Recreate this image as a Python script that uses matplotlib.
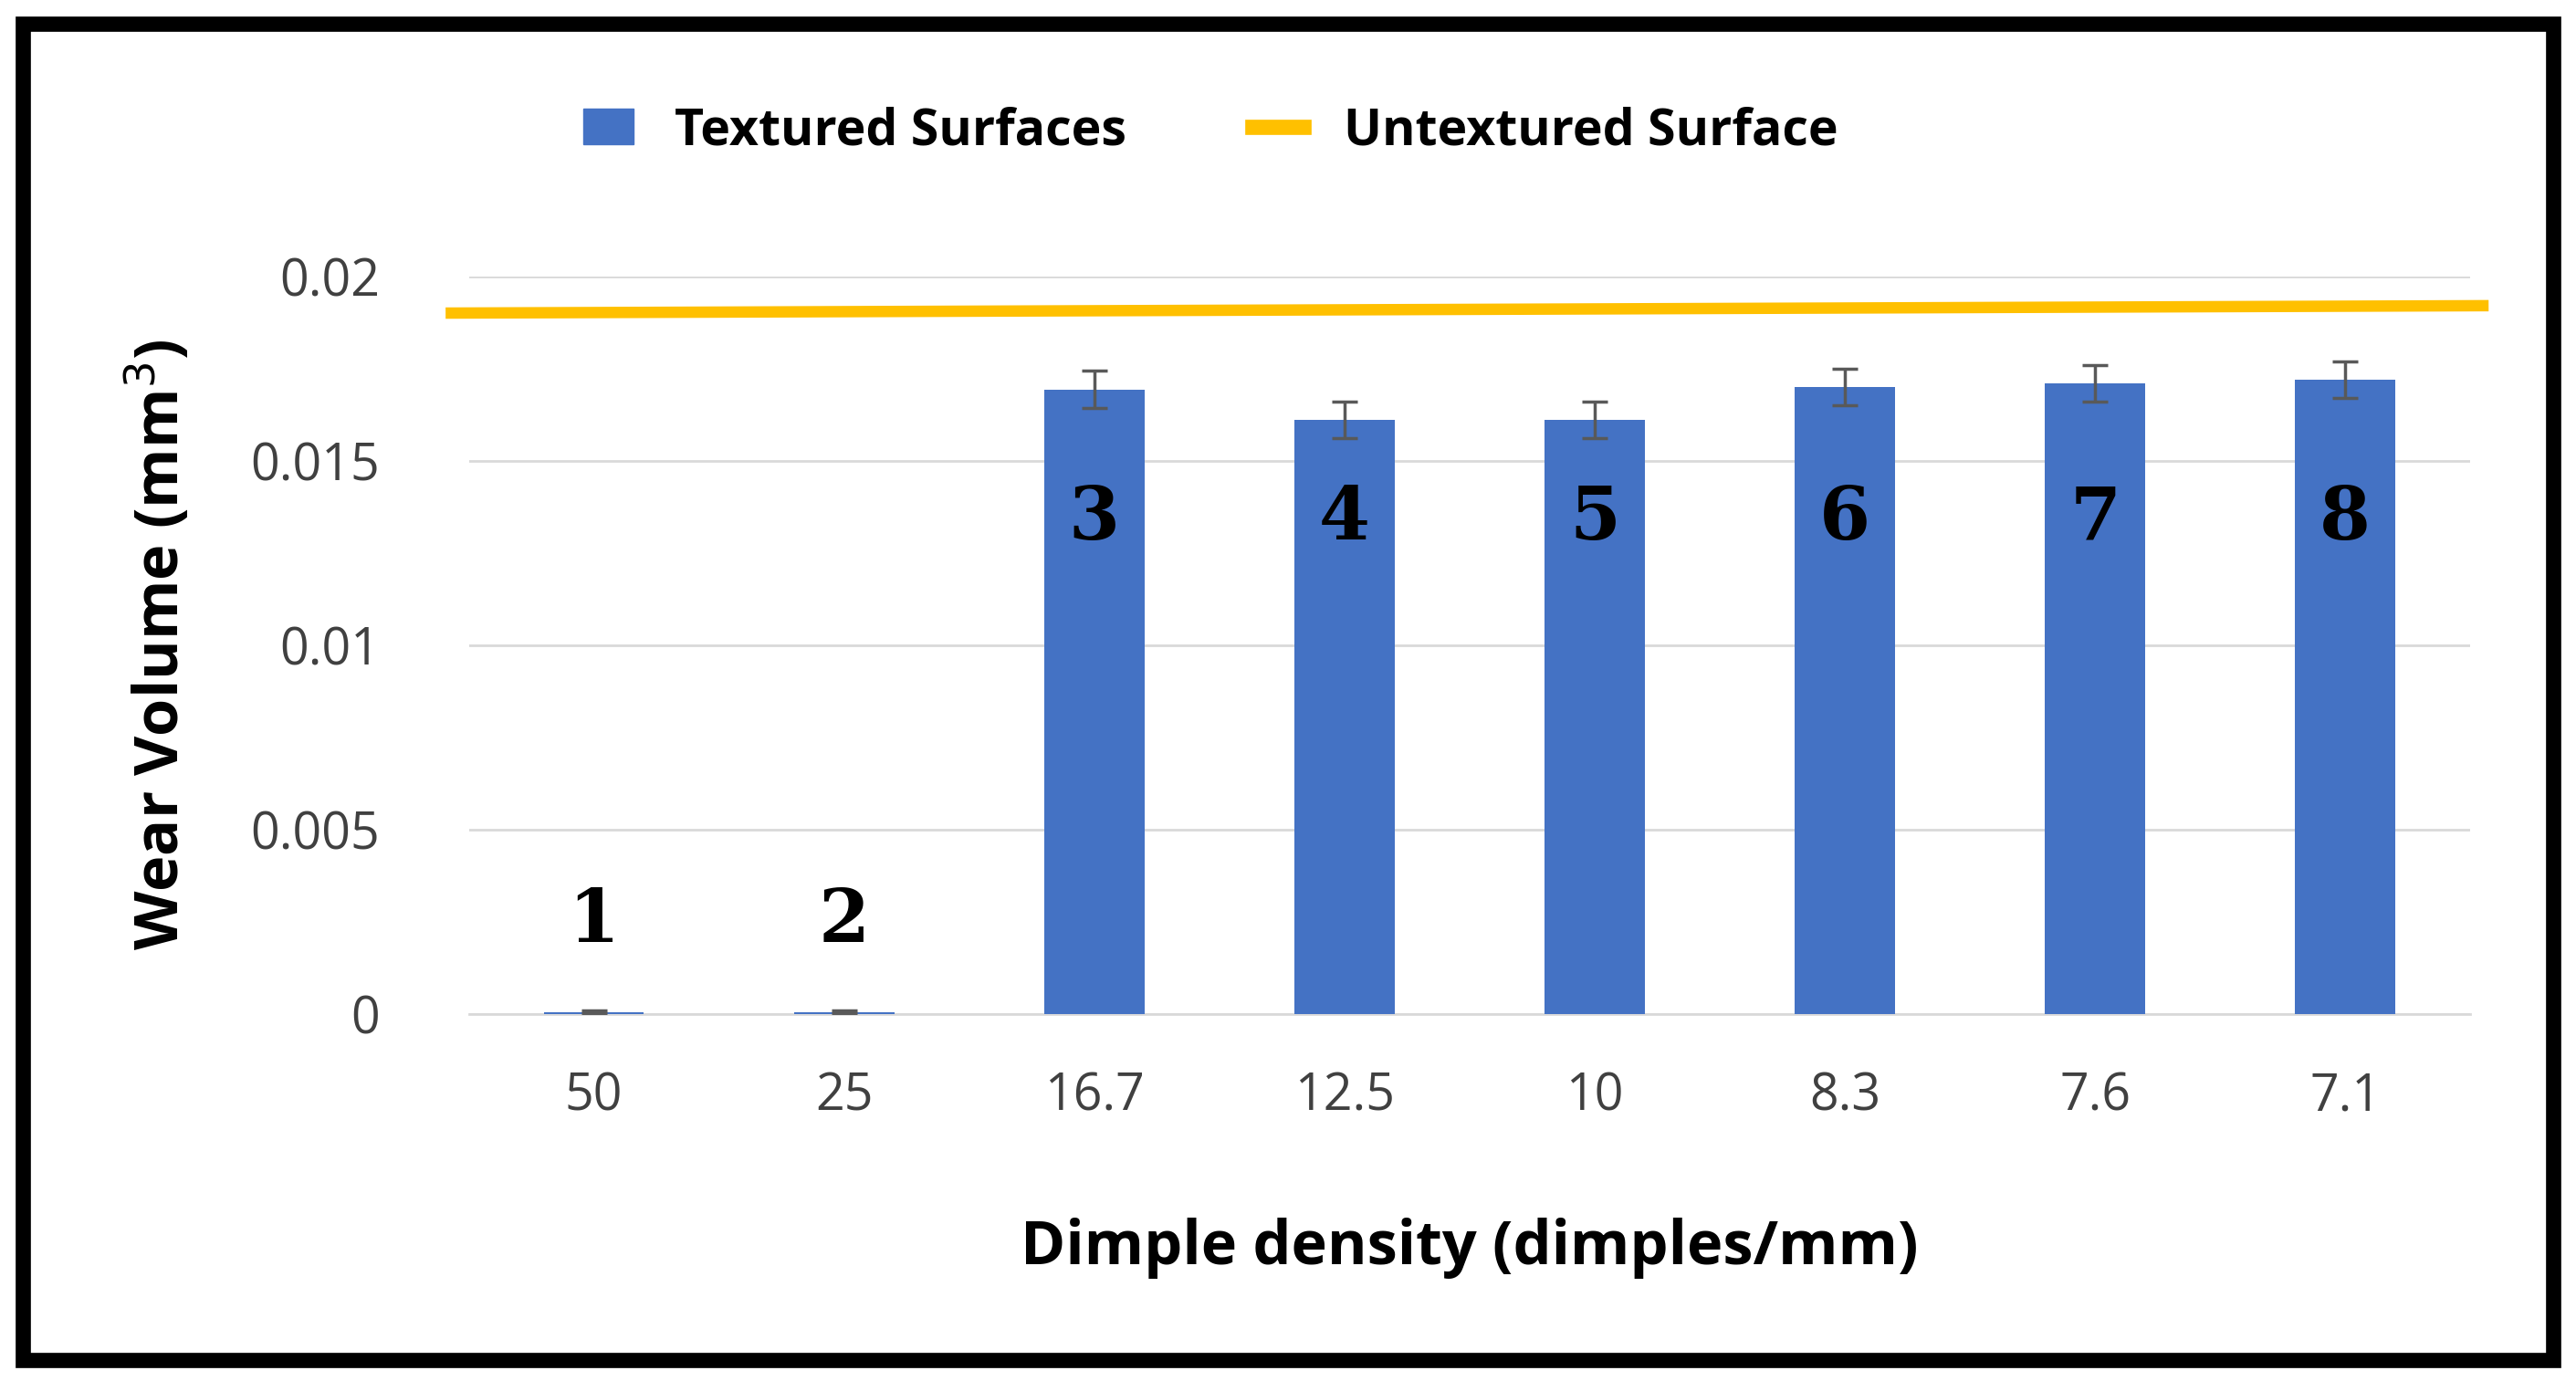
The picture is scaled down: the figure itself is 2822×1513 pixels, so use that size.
import matplotlib
matplotlib.use("Agg")
import matplotlib.pyplot as plt
from matplotlib.patches import Rectangle
from matplotlib.lines import Line2D
from matplotlib.patches import Patch

plt.rcParams['font.family'] = ['Open Sans', 'DejaVu Sans']

categories = ["50", "25", "16.7", "12.5", "10", "8.3", "7.6", "7.1"]
values = [0.00005, 0.00005, 0.01693, 0.0161, 0.0161, 0.0170, 0.0171, 0.0172]
errors = [0.00003, 0.00003, 0.0005, 0.0005, 0.0005, 0.0005, 0.0005, 0.0005]
labels = ["1", "2", "3", "4", "5", "6", "7", "8"]
untextured = [0.0190, 0.0192]

blue = "#4472C4"
yellow = "#FFC000"

fig = plt.figure(figsize=(28.22, 15.13), dpi=100)
ax = fig.add_axes([0.182, 0.266, 0.777, 0.534])
x = list(range(len(categories)))
ax.bar(x, values, width=0.4, color=blue, zorder=3,
       yerr=errors, ecolor="#595959", capsize=10, error_kw=dict(elinewidth=2.5, capthick=2.5))
ax.plot([-0.57, 7.55], untextured, color=yellow, lw=9, clip_on=False, zorder=4)
for i, (v, l) in enumerate(zip(values, labels)):
    y = 0.0025 if v < 0.005 else 0.0134
    ax.text(i, y, l, ha="center", va="center", fontsize=58, fontweight="bold",
            family="DejaVu Serif", zorder=5)
ax.set_xlim(-0.5, 7.5)
ax.set_ylim(0, 0.02)
ax.set_yticks([0, 0.005, 0.01, 0.015, 0.02])
ax.set_yticklabels(["0", "0.005", "0.01", "0.015", "0.02"])
ax.set_xticks(x)
ax.set_xticklabels(categories)
ax.tick_params(axis="both", length=0, labelsize=40, colors="#404040")
ax.tick_params(axis="x", pad=45)
ax.tick_params(axis="y", pad=70)
ax.yaxis.grid(True, color="#D9D9D9", lw=2, zorder=0)
for s in ["top", "right", "left"]:
    ax.spines[s].set_visible(False)
ax.spines["bottom"].set_color("#D9D9D9")
ax.spines["bottom"].set_linewidth(2)
ax.set_ylabel("Wear Volume (mm$^3$)", fontsize=48, fontweight="bold", labelpad=45)
ax.set_xlabel("Dimple density (dimples/mm)", fontsize=48, fontweight="bold", labelpad=75)

handles = [Patch(color=blue), Line2D([0], [0], color=yellow, lw=12)]
fig.legend(handles, ["Textured Surfaces", "Untextured Surface"], loc="center",
           bbox_to_anchor=(0.47, 0.905), ncol=2, frameon=False,
           prop=dict(size=40, weight="bold"), handlelength=1.0, columnspacing=2.5,
           handletextpad=0.8)

fig.patches.append(Rectangle((0.009, 0.015), 0.982, 0.968, transform=fig.transFigure,
                             fill=False, lw=12, edgecolor="black"))
fig.savefig("out.png", dpi=100)
